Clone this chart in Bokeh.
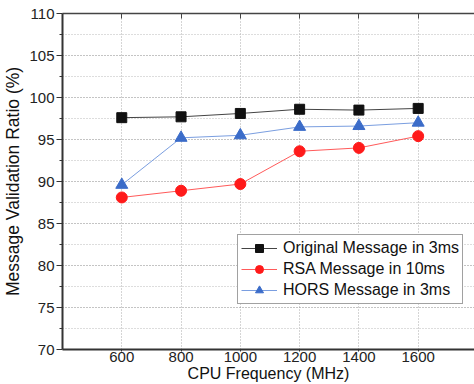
from bokeh.plotting import figure
from bokeh.models import Range1d, FixedTicker, LinearAxis, Legend, LegendItem
from bokeh.embed import file_html
from bokeh.resources import INLINE

freq = [600, 800, 1000, 1200, 1400, 1600]
original = [97.6, 97.7, 98.1, 98.6, 98.5, 98.7]
rsa = [88.1, 88.9, 89.7, 93.6, 94.0, 95.4]
hors = [89.6, 95.2, 95.5, 96.5, 96.6, 97.0]
y_ticks = [70, 75, 80, 85, 90, 95, 100, 105, 110]
y_minor = [72.5, 77.5, 82.5, 87.5, 92.5, 97.5, 102.5, 107.5]
x_ticks = [600, 800, 1000, 1200, 1400, 1600]

FONT = "Liberation Sans"

p = figure(width=474, height=384, output_backend="svg", toolbar_location=None,
           x_range=Range1d(400, 1790), y_range=Range1d(70, 110),
           min_border_left=0, min_border_right=0, min_border_top=13, min_border_bottom=0)
p.outline_line_color = None
p.background_fill_color = "white"
p.border_fill_color = "white"

# axes
xa = p.xaxis[0]
xa.ticker = FixedTicker(ticks=x_ticks)
xa.axis_label = "CPU Frequency (MHz)"
xa.axis_label_text_font = FONT
xa.axis_label_text_font_style = "normal"
xa.axis_label_text_font_size = "16px"
xa.axis_label_text_color = "#111111"
xa.axis_label_standoff = 0
xa.major_label_text_font = FONT
xa.major_label_text_font_size = "15px"
xa.major_label_text_color = "#222222"
xa.major_label_standoff = 0
xa.major_tick_out = 2
xa.major_tick_in = 0
xa.minor_tick_line_color = None
xa.axis_line_width = 2
xa.axis_line_color = "#333333"
xa.major_tick_line_color = "#333333"

ya = p.yaxis[0]
ya.ticker = FixedTicker(ticks=y_ticks, minor_ticks=y_minor)
ya.axis_label = "Message Validation Ratio (%)"
ya.axis_label_text_font = FONT
ya.axis_label_text_font_style = "normal"
ya.axis_label_text_font_size = "17.5px"
ya.axis_label_text_color = "#111111"
ya.axis_label_standoff = 3
ya.major_label_text_font = FONT
ya.major_label_text_font_size = "15px"
ya.major_label_text_color = "#222222"
ya.major_label_standoff = 2
ya.major_tick_out = 6
ya.major_tick_in = 0
ya.minor_tick_out = 3
ya.minor_tick_in = 0
ya.axis_line_width = 2
ya.axis_line_color = "#333333"
ya.major_tick_line_color = "#333333"
ya.minor_tick_line_color = "#333333"

top = LinearAxis(ticker=FixedTicker(ticks=x_ticks),
                 major_label_overrides={t: "" for t in x_ticks},
                 major_tick_in=5, major_tick_out=0, minor_tick_line_color=None,
                 axis_line_color="#444444", axis_line_width=1.5,
                 major_tick_line_color="#444444", major_label_standoff=0)
p.add_layout(top, "above")

# grids
p.xgrid.grid_line_color = "#aaaaaa"
p.xgrid.grid_line_dash = "1 2"
p.xgrid.grid_line_width = 1
p.ygrid.grid_line_color = "#888888"
p.ygrid.grid_line_dash = "1 2"
p.ygrid.grid_line_width = 1
p.ygrid.minor_grid_line_color = "#bbbbbb"
p.ygrid.minor_grid_line_dash = "1 2"

# series
l1 = p.line(freq, original, line_color="#444444", line_width=1)
s1 = p.scatter(freq, original, marker="square", size=10, fill_color="#111111", line_color="#111111")
l2 = p.line(freq, rsa, line_color="#ff5a5a", line_width=1)
s2 = p.scatter(freq, rsa, marker="circle", size=11, fill_color="#ff1a1a", line_color="#ff1a1a")
l3 = p.line(freq, hors, line_color="#7a9ee0", line_width=1)
s3 = p.scatter(freq, hors, marker="triangle", size=12, fill_color="#3b6cc9", line_color="#3b6cc9")

legend = Legend(items=[
    LegendItem(label="Original Message in 3ms", renderers=[l1, s1]),
    LegendItem(label="RSA Message in 10ms", renderers=[l2, s2]),
    LegendItem(label="HORS Message in 3ms", renderers=[l3, s3]),
], location=(175, 45))
legend.label_text_font = FONT
legend.label_text_font_size = "16px"
legend.label_text_color = "#111111"
legend.border_line_color = "#444444"
legend.border_line_width = 1
legend.background_fill_alpha = 1
legend.glyph_width = 36
legend.glyph_height = 20
legend.label_height = 20
legend.spacing = 1
legend.padding = 3
legend.margin = 0
legend.label_standoff = 6
p.add_layout(legend, "center")

open("out.html", "w").write(file_html(p, INLINE))
